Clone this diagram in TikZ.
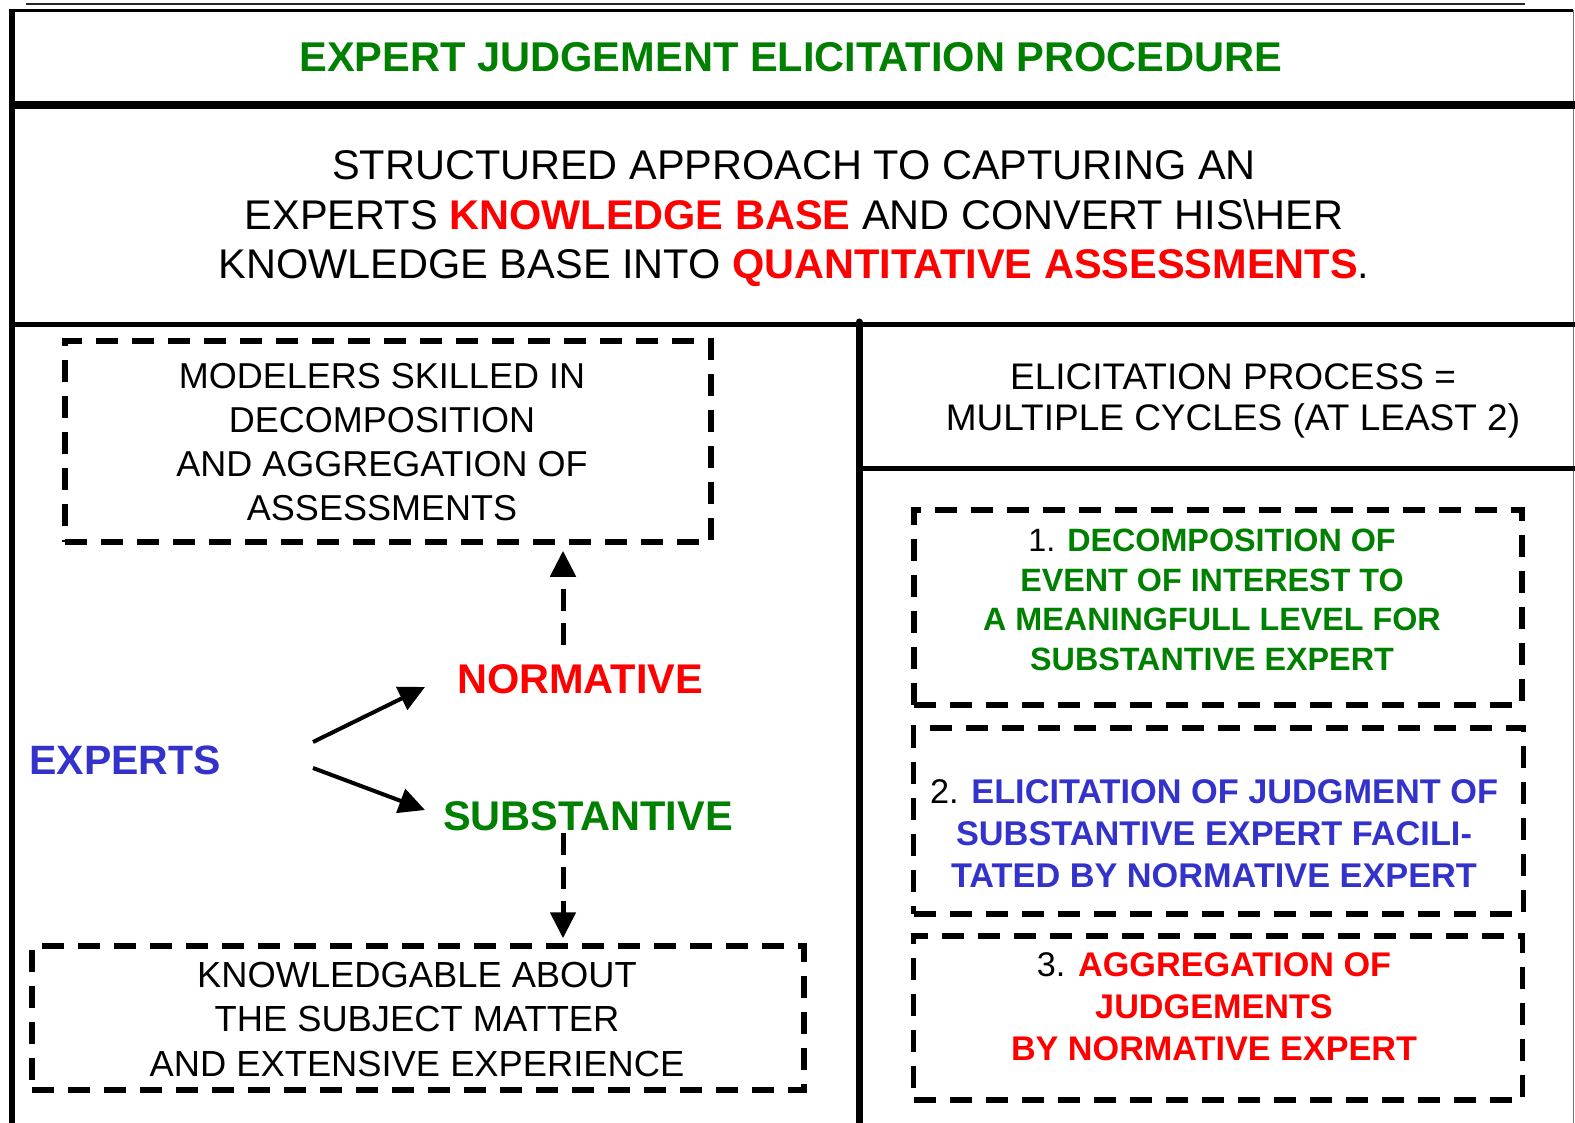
\documentclass[tikz,border=0pt]{standalone}
\usepackage{fontspec}
\setmainfont{Liberation Sans}
\usetikzlibrary{arrows.meta}
\definecolor{tgreen}{RGB}{0,128,0}
\definecolor{tred}{RGB}{255,0,0}
\definecolor{tblue}{RGB}{51,51,204}
\begin{document}
\begin{tikzpicture}[x=1pt,y=-1pt,
  frame/.style={draw=black},
  dbox/.style={draw=black, line width=5.5pt, dash pattern=on 22pt off 14pt, inner sep=0pt, fill=none},
  txt/.style={align=center, inner sep=0pt},
  arr/.style={line width=4pt, -{Triangle[length=26pt,width=25pt]}},
  dasharr/.style={line width=5pt, dash pattern=on 22pt off 12pt, -{Triangle[length=26pt,width=25pt]}}
]
\useasboundingbox (0,0) rectangle (1575,1123);
\fill[white] (0,0) rectangle (1575,1123);

% frame lines
\draw[frame, line width=2pt, black!85] (26,4) -- (1525,4);
\draw[frame, line width=6pt] (12,9) -- (12,1123);
\draw[frame, line width=3pt] (9,10.5) -- (1573,10.5);
\draw[frame, line width=1pt, black!55] (1573,10) -- (1573,1123);
\draw[frame, line width=8pt] (12,105) -- (1575,105);
\draw[frame, line width=5pt] (12,325) -- (1575,325);
\draw[frame, line width=7pt, line cap=round] (859,322) -- (859,1123);
\draw[frame, line width=5pt] (859,468) -- (1575,468);

% title
\node[txt, font=\fontsize{41.6}{49}\selectfont\bfseries, text=tgreen] (title) at (791,57)
  {EXPERT JUDGEMENT ELICITATION PROCEDURE};

% structured approach
\node[txt, font=\fontsize{41.5}{49.5}\selectfont] (approach) at (794,219)
  {STRUCTURED APPROACH TO CAPTURING AN\\
   EXPERTS \textcolor{tred}{\bfseries KNOWLEDGE BASE} AND CONVERT HIS\textbackslash HER\\
   KNOWLEDGE BASE INTO \textcolor{tred}{\bfseries QUANTITATIVE ASSESSMENTS}.};

% left boxes
\node[dbox, minimum width=646pt, minimum height=201pt] (modelers) at (388,441.5) {};
\node[txt, font=\fontsize{36}{44}\selectfont] (modtxt) at (382,442)
  {MODELERS SKILLED IN\\ DECOMPOSITION\\ AND AGGREGATION OF\\ ASSESSMENTS};

\node[dbox, minimum width=772pt, minimum height=144pt] (knowbox) at (418,1018) {};
\node[txt, font=\fontsize{36.3}{44.5}\selectfont] (knowtxt) at (417,1019)
  {KNOWLEDGABLE ABOUT\\ THE SUBJECT MATTER\\ AND EXTENSIVE EXPERIENCE};

\node[txt, font=\fontsize{41.5}{49}\selectfont\bfseries, text=tred] (normative) at (580,679) {NORMATIVE};
\node[txt, font=\fontsize{41.5}{49}\selectfont\bfseries, text=tgreen] (substantive) at (588,816) {SUBSTANTIVE};
\node[txt, font=\fontsize{41}{49}\selectfont\bfseries, text=tblue] (experts) at (125,760) {EXPERTS};

\coordinate (eN) at (313,742);
\coordinate (eS) at (313,768);
\coordinate (nIn) at (425,687);
\coordinate (sIn) at (425,810);
\draw[arr] (eN) -- (nIn);
\draw[arr] (eS) -- (sIn);

\coordinate (upStart) at (563,645);
\coordinate (downStart) at (563,833);
\draw[dasharr, shorten >=6pt] (upStart) -- (upStart |- modelers.south);
\draw[dasharr, shorten >=5pt] (downStart) -- (downStart |- knowbox.north);

% right column
\node[txt, font=\fontsize{37}{41}\selectfont] (process) at (1233,401)
  {ELICITATION PROCESS =\\ MULTIPLE CYCLES (AT LEAST 2)};

\node[dbox, minimum width=608pt, minimum height=195pt] (box1) at (1218,607.5) {};
\node[txt, font=\fontsize{32.3}{39.5}\selectfont\bfseries, text=tgreen] (t1) at (1212,600)
  {\textcolor{black}{\mdseries 1.} DECOMPOSITION OF\\ EVENT OF INTEREST TO\\ A MEANINGFULL LEVEL FOR\\ SUBSTANTIVE EXPERT};

\node[dbox, minimum width=610pt, minimum height=186pt] (box2) at (1218.5,821) {};
\node[txt, font=\fontsize{34.3}{42}\selectfont\bfseries, text=tblue] (t2) at (1214,834)
  {\textcolor{black}{\mdseries 2.} ELICITATION OF JUDGMENT OF\\ SUBSTANTIVE EXPERT FACILI-\\ TATED BY NORMATIVE EXPERT};

\node[dbox, minimum width=609pt, minimum height=164pt] (box3) at (1218,1018) {};
\node[txt, font=\fontsize{34.2}{42}\selectfont\bfseries, text=tred] (t3) at (1214,1007)
  {\textcolor{black}{\mdseries 3.} AGGREGATION OF\\ JUDGEMENTS\\ BY NORMATIVE EXPERT};
\end{tikzpicture}
\end{document}
